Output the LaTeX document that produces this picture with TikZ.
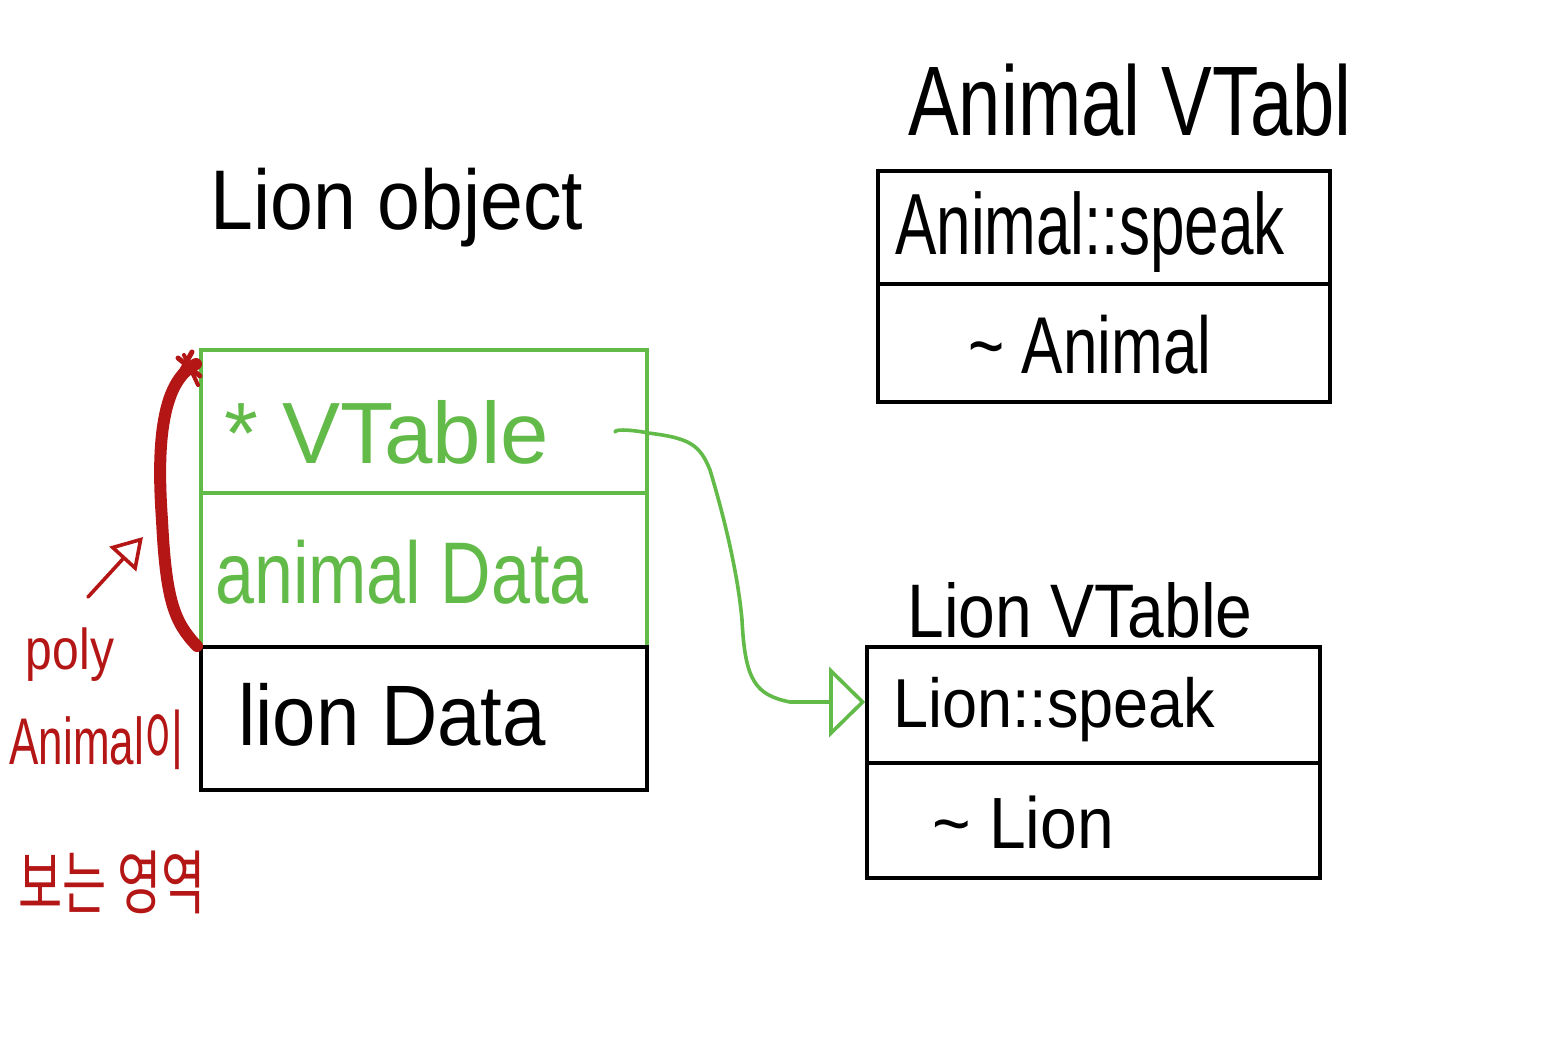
\documentclass[tikz,border=0pt]{standalone}
\usepackage{fontspec}
\usepackage{graphicx}
\setmainfont{Liberation Sans}
\newfontfamily\krfont{Noto Sans CJK KR}
\usetikzlibrary{arrows.meta}
\definecolor{pgreen}{RGB}{98,186,72}
\definecolor{pred}{RGB}{180,22,22}
\newcommand\hwtext[3]{\fontsize{#1}{#1}\selectfont\scalebox{1}[#2]{#3}}
\tikzset{
  cellblack/.style={draw=black, line width=3.6pt, inner sep=0pt, rectangle},
  cellgreen/.style={draw=pgreen, line width=3.6pt, inner sep=0pt, rectangle},
  lbl/.style={inner sep=0pt, text=black},
  glbl/.style={inner sep=0pt, text=pgreen},
  rlbl/.style={inner sep=0pt, text=pred},
  gconn/.style={draw=pgreen, line width=3.6pt, line cap=round, line join=round},
  rconn/.style={draw=pred, line width=3.6pt, line cap=round, line join=round}
}
\begin{document}
\begin{tikzpicture}[x=1pt,y=-1pt]
\useasboundingbox[fill=white] (0,0) rectangle (1557,1043);

% Lion object cells
\node[cellgreen, minimum width=446pt, minimum height=143pt] (vtcell) at (424,421.5) {};
\node[cellgreen, minimum width=446pt, minimum height=154pt] (adcell) at (424,570) {};
\node[cellblack, minimum width=446pt, minimum height=143pt] (ldcell) at (424,718.5) {};

% Animal VTable cells
\node[cellblack, minimum width=452pt, minimum height=113pt] (aspeak) at (1104,227.5) {};
\node[cellblack, minimum width=452pt, minimum height=118pt] (adtor) at (1104,343) {};

% Lion VTable cells
\node[cellblack, minimum width=453pt, minimum height=116pt] (lspeak) at (1093.5,705) {};
\node[cellblack, minimum width=453pt, minimum height=115pt] (ldtor) at (1093.5,820.5) {};

% titles
\node[lbl] (tlion) at (397,208) {\hwtext{77}{1.1}{Lion object}};
\node[lbl] (tavt) at (1130,100) {\hwtext{76}{1.3}{Animal VTabl}};
\node[lbl] (tlvt) at (1080,610) {\hwtext{66}{1.15}{Lion VTable}};

% cell texts
\node[glbl] (tvt) at (387,432) {\hwtext{87}{1}{* VTable}};
\node[glbl] (tad) at (402,572) {\hwtext{70}{1.25}{animal Data}};
\node[lbl] (tld) at (392,715) {\hwtext{78}{1.1}{lion Data}};
\node[lbl, anchor=west] (tas) at (895,232) {\hwtext{62}{1.4}{Animal::speak}};
\node[lbl] (tad2) at (1090,345) {\hwtext{62}{1.3}{\textasciitilde\ Animal}};
\node[lbl, anchor=west] (tls) at (893,710) {\hwtext{63}{1.1}{Lion::speak}};
\node[lbl] (tld2) at (1023,823) {\hwtext{66}{1.1}{\textasciitilde\ Lion}};

% red annotations
\node[rlbl] (tpoly) at (70,655) {\hwtext{48}{1.2}{poly}};
\node[rlbl] (tanim) at (97,740) {\hwtext{44}{1.5}{Animal\krfont 이}};
\node[rlbl] (tkr) at (112,882) {\hwtext{48}{1.45}{\krfont 보는 영역}};

% red brace
\draw[draw=pred, line width=12pt, line cap=round] (196,364) .. controls (160,382) and (157,450) .. (162,520) .. controls (166,600) and (174,622) .. (197,646);
\draw[draw=pred, line width=5pt, line cap=round] (178,358) -- (200,376);
\draw[draw=pred, line width=5pt, line cap=round] (192,352) -- (166,398);
\draw[draw=pred, line width=4pt, line cap=round] (184,355) -- (198,385);

% red arrow
\coordinate (rstart) at (88,597);
\coordinate (rend) at (143,537);
\draw[rconn, -{Triangle[open, length=30pt, width=36pt, line width=3.6pt]}] (rstart) -- (rend);

% green connector
\coordinate (gstart) at (615,432);
\draw[gconn, -{Triangle[open, length=36pt, width=70pt, line width=3.6pt]}] (gstart) .. controls (615,428) and (640,431) .. (648,433)
  .. controls (690,438) and (700,445) .. (710,470)
  .. controls (725,520) and (738,575) .. (742,620)
  .. controls (745,680) and (755,695) .. (790,702)
  -- (lspeak.west |- 0,702);
\end{tikzpicture}
\end{document}
